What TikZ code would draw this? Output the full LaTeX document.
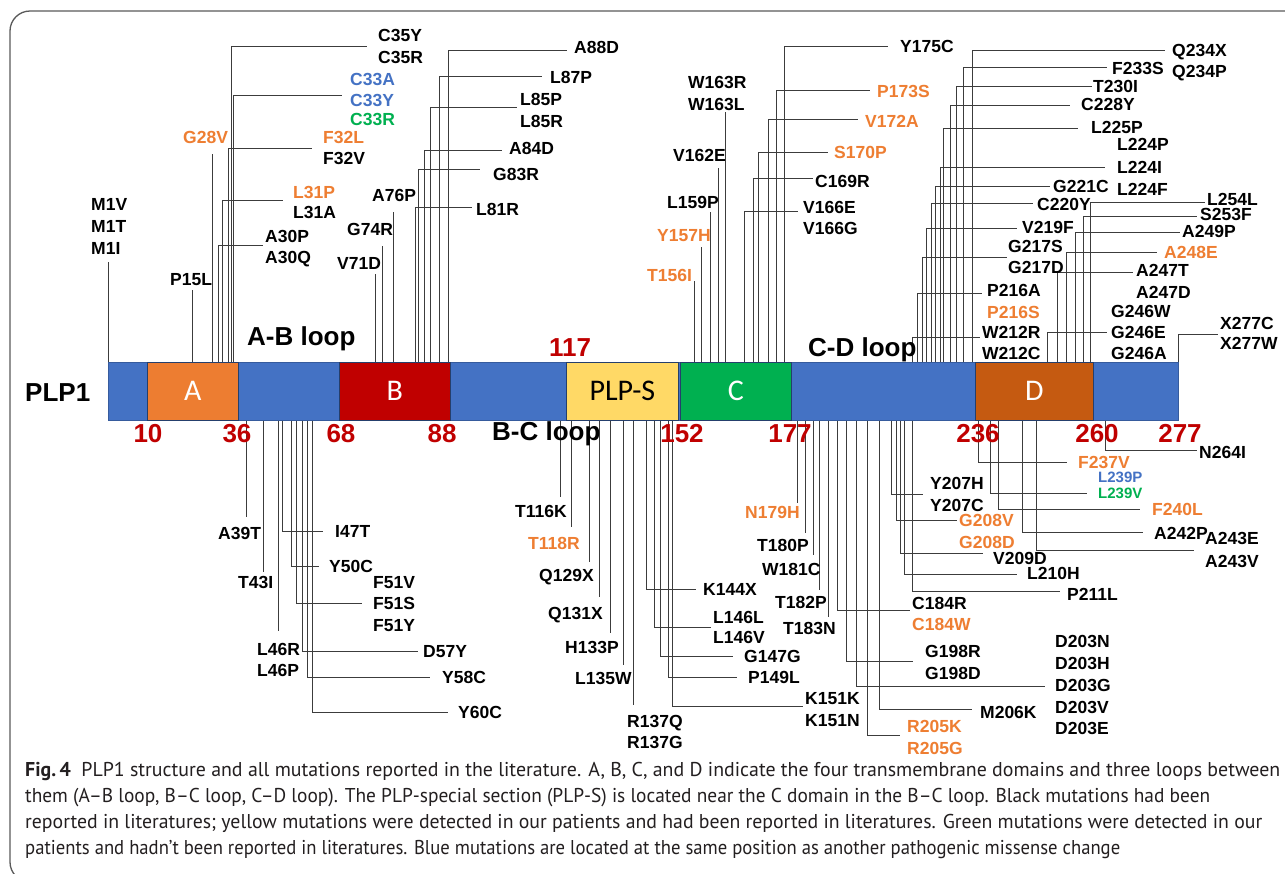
\documentclass[tikz,border=0pt]{standalone}
\usepackage{fontspec}
\usepackage{graphicx}
\setmainfont{Liberation Sans}
\newfontfamily\calibf{Carlito}
\newfontfamily\capf{PT Sans}
\definecolor{barblue}{HTML}{4472C4}
\definecolor{boxa}{HTML}{ED7D31}
\definecolor{boxb}{HTML}{C00000}
\definecolor{boxp}{HTML}{FFD966}
\definecolor{boxc}{HTML}{00B050}
\definecolor{boxd}{HTML}{C55A11}
\definecolor{mor}{HTML}{EE7E32}
\definecolor{mbl}{HTML}{4472C4}
\definecolor{mgr}{HTML}{00B050}
\definecolor{numred}{HTML}{C00000}
\definecolor{linec}{HTML}{3C3C3C}
\definecolor{framec}{HTML}{5A5A5A}
\definecolor{capc}{HTML}{231F20}
\newcommand\mutfont{\fontsize{17.5}{21}\selectfont\bfseries}
\newcommand\mElb[5]{% name, start y, vertical x, horizontal y, end x
  \coordinate (#1s) at (#3,#2);
  \coordinate (#1e) at (#5,#4);
  \draw[ln] (#1s) |- (#1e);}
\newcommand\mVln[4]{% name, start y, x, end y
  \coordinate (#1s) at (#3,#2);
  \coordinate (#1e) at (#3,#4);
  \draw[ln] (#1s) -- (#1e);}
\newcommand\mLab[5][black]{\node[mut,text=#1] (#2) at (#3,#4) {#5};}
\begin{document}
\begin{tikzpicture}[x=1pt,y=-1pt,
  ln/.style={draw=linec,line width=0.8pt},
  mut/.style={font=\mutfont,inner sep=0pt,anchor=west,text height=12.6pt,text depth=0pt},
  smallmut/.style={font=\fontsize{15}{18}\selectfont\bfseries,inner sep=0pt,anchor=west,text height=10.8pt,text depth=0pt},
  num/.style={font=\fontsize{26}{26}\selectfont\bfseries,text=numred,inner sep=0pt,text height=18.6pt,text depth=0pt},
  looplab/.style={font=\fontsize{26}{26}\selectfont\bfseries,inner sep=0pt,anchor=west,text height=18.6pt,text depth=5pt},
  boxlab/.style={font=\calibf\fontsize{30}{30}\selectfont,inner sep=0pt,text height=19pt,text depth=0pt},
  dom/.style={draw=barblue!55!black,line width=0.7pt,inner sep=0pt,minimum height=58pt,anchor=north west},
  capline/.style={anchor=base west,inner sep=0pt,text=capc,font=\capf\fontsize{20}{24}\selectfont}]
\useasboundingbox (0,0) rectangle (1285,873);
\fill[white] (0,0) rectangle (1285,873);
% frame
\draw[framec,line width=1.3pt,rounded corners=20pt] (1300,11) -- (10,11) -- (10,882) -- (1300,882);

% ---------- connectors above the bar ----------
\mVln{m1}{362}{108}{262}
\mVln{p15}{362}{192}{290}
\mVln{g28}{362}{212}{154}
\mElb{a30}{362}{218}{245}{263}
\mElb{l31}{362}{222}{200}{283}
\mElb{f32}{362}{228}{148}{312}
\mElb{c35}{362}{231}{46}{367}
\mElb{c33}{362}{233}{95}{342}
\mVln{v71}{362}{375}{274}
\mVln{g74}{362}{382}{246}
\mVln{a76}{362}{393}{212}
\mElb{l81}{362}{415}{207}{472}
\mElb{g83}{362}{418}{169}{480}
\mElb{a84}{362}{424}{150}{502}
\mElb{l85}{362}{430}{107}{517}
\mElb{l87}{362}{439}{76}{542}
\mElb{a88}{362}{448}{50}{567}
\mVln{t156}{362}{694}{281}
\mVln{y157}{362}{701}{247}
\mVln{l159}{362}{710}{212}
\mVln{v162}{362}{718}{168}
\mVln{w163}{362}{725}{112}
\mElb{v166}{362}{744}{211}{798}
\mElb{c169}{362}{753}{178}{813}
\mElb{s170}{362}{758}{152}{828}
\mElb{v172}{362}{768}{119}{858}
\mElb{p173}{362}{776}{90}{870}
\mElb{y175}{362}{784}{46}{888}
\mElb{w212}{362}{912}{337}{980}
\mElb{p216}{362}{917}{293}{982}
\mElb{g217}{362}{922}{257}{1007}
\mElb{v219}{362}{926}{228}{1017}
\mElb{c220}{362}{931}{203}{1033}
\mElb{g221}{362}{935}{186}{1050}
\mElb{l224}{362}{940}{167}{1105}
\mElb{l225}{362}{943}{128}{1078}
\mElb{c228}{362}{950}{105}{1070}
\mElb{t230}{362}{956}{86}{1092}
\mElb{f233}{362}{963}{67}{1107}
\mElb{q234}{362}{972}{50}{1165}
\mElb{g246}{362}{1047}{332}{1107}
\mElb{a247}{362}{1057}{272}{1133}
\mElb{a248}{362}{1066}{252}{1157}
\mElb{a249}{362}{1075}{232}{1180}
\mElb{s253}{362}{1083}{216}{1197}
\mElb{l254}{362}{1090}{202}{1205}
\mElb{x277}{362}{1178}{334}{1218}

% ---------- connectors below the bar ----------
\mVln{a39}{420}{246}{517}
\mVln{t43}{420}{263}{572}
\mVln{l46}{420}{278}{631}
\mElb{i47}{420}{282}{531}{323}
\mElb{y50}{420}{291}{566}{319}
\mElb{f51}{420}{296}{603}{362}
\mElb{d57}{420}{302}{651}{418}
\mElb{y58}{420}{307}{677}{430}
\mElb{y60}{420}{312}{712}{448}
\mVln{t116}{420}{560}{497}
\mVln{t118}{420}{571}{527}
\mVln{q129}{420}{589}{562}
\mVln{q131}{420}{599}{597}
\mVln{h133}{420}{610}{633}
\mVln{l135}{420}{623}{665}
\mVln{r137}{420}{633}{705}
\mElb{k144}{420}{646}{589}{696}
\mElb{l146}{420}{654}{627}{711}
\mElb{g147}{420}{660}{656}{733}
\mElb{p149}{420}{668}{677}{737}
\mElb{k151}{420}{672}{706}{803}
\mVln{n179}{420}{797}{503}
\mVln{t180}{420}{805}{533}
\mVln{w181}{420}{813}{555}
\mVln{t182}{420}{819}{590}
\mVln{t183}{420}{828}{617}
\mElb{c184}{420}{837}{610}{910}
\mElb{g198}{420}{846}{661}{913}
\mElb{d203}{420}{856}{686}{1045}
\mElb{r205}{420}{867}{735}{900}
\mElb{m206}{420}{879}{709}{972}
\mElb{y207}{420}{891}{494}{923}
\mElb{g208}{420}{896}{520}{957}
\mElb{v209}{420}{900}{553}{983}
\mElb{l210}{420}{904}{574}{1017}
\mElb{p211}{420}{912}{591}{1060}
\mElb{f237}{420}{978}{462}{1067}
\mElb{l239}{420}{990}{493}{1087}
\mElb{f240}{420}{998}{509}{1140}
\mElb{a242}{420}{1022}{532}{1143}
\mElb{a243}{420}{1036}{550}{1194}
\mElb{n264}{420}{1105}{450}{1197}

% ---------- protein bar ----------
\node[fill=barblue,draw=barblue!80!black,line width=0.7pt,inner sep=0pt,minimum width=1070pt,minimum height=58pt,anchor=north west] (bar) at (108,362) {};
\node[dom,fill=boxa,minimum width=91pt] (doma) at (147,362) {};
\node[dom,fill=boxb,minimum width=111pt] (domb) at (339,362) {};
\node[dom,fill=boxp,minimum width=112pt] (domp) at (566,362) {};
\node[dom,fill=boxc,minimum width=111pt] (domc) at (680,362) {};
\node[dom,fill=boxd,minimum width=118pt] (domd) at (975,362) {};
\node[boxlab,text=white] (la) at (doma.center) {A};
\node[boxlab,text=white] (lb) at (domb.center) {B};
\node[boxlab,text=black] (lp) at (domp.center) {PLP-S};
\node[boxlab,text=white] (lc) at (domc.center) {C};
\node[boxlab,text=white] (ld) at (domd.center) {D};
\node[font=\fontsize{26}{26}\selectfont\bfseries,inner sep=0pt,anchor=west,text height=18.6pt,text depth=0pt] (plp1) at (25,392) {PLP1};

% numbers
\node[num] (n10) at (148,433) {10};
\node[num] (n36) at (237,433) {36};
\node[num] (n68) at (341,433) {68};
\node[num] (n88) at (442,433) {88};
\node[num] (n152) at (682,433) {152};
\node[num] (n177) at (790,433) {177};
\node[num] (n236) at (978,433) {236};
\node[num] (n260) at (1097,433) {260};
\node[num] (n277) at (1180,433) {277};
\node[num] (n117) at (570,347) {117};

% loops
\node[looplab] (abl) at (247,339) {A-B loop};
\node[looplab] (bcl) at (492,434) {B-C loop};
\node[looplab] (cdl) at (808,350) {C-D loop};

% ---------- labels above ----------
\mLab{m1v}{91}{204}{M1V}
\mLab{m1t}{91}{226}{M1T}
\mLab{m1i}{91}{248}{M1I}
\mLab{p15l}{170}{279}{P15L}
\mLab[mor]{g28v}{183}{137}{G28V}
\mLab{a30p}{265}{236}{A30P}
\mLab{a30q}{265}{257}{A30Q}
\mLab[mor]{l31p}{293}{192}{L31P}
\mLab{l31a}{293}{212}{L31A}
\mLab[mor]{f32l}{323}{137}{F32L}
\mLab{f32v}{323}{158}{F32V}
\mLab[mbl]{c33a}{350}{79}{C33A}
\mLab[mbl]{c33y}{350}{100}{C33Y}
\mLab[mgr]{c33r}{350}{119}{C33R}
\mLab{c35y}{378}{35}{C35Y}
\mLab{c35r}{378}{57}{C35R}
\mLab{v71d}{337}{263}{V71D}
\mLab{g74r}{347}{229}{G74R}
\mLab{a76p}{372}{195}{A76P}
\mLab{l81r}{476}{209}{L81R}
\mLab{g83r}{493}{174}{G83R}
\mLab{a84d}{509}{148}{A84D}
\mLab{l85p}{520}{99}{L85P}
\mLab{l85r}{520}{121}{L85R}
\mLab{l87p}{550}{77}{L87P}
\mLab{a88d}{574}{47}{A88D}
\mLab[mor]{t156i}{647}{275}{T156I}
\mLab[mor]{y157h}{657}{235}{Y157H}
\mLab{l159p}{667}{202}{L159P}
\mLab{v162e}{673}{155}{V162E}
\mLab{w163r}{688}{82}{W163R}
\mLab{w163l}{688}{104}{W163L}
\mLab{v166e}{803}{207}{V166E}
\mLab{v166g}{803}{228}{V166G}
\mLab{c169r}{815}{181}{C169R}
\mLab[mor]{s170p}{834}{152}{S170P}
\mLab[mor]{v172a}{865}{121}{V172A}
\mLab[mor]{p173s}{877}{91}{P173S}
\mLab{y175c}{900}{46}{Y175C}
\mLab{q234x}{1172}{50}{Q234X}
\mLab{q234p}{1172}{71}{Q234P}
\mLab{f233s}{1112}{68}{F233S}
\mLab{t230i}{1093}{86}{T230I}
\mLab{c228y}{1081}{104}{C228Y}
\mLab{l225p}{1091}{127}{L225P}
\mLab{l224p}{1117}{144}{L224P}
\mLab{l224i}{1117}{167}{L224I}
\mLab{l224f}{1117}{189}{L224F}
\mLab{g221c}{1053}{186}{G221C}
\mLab{c220y}{1037}{204}{C220Y}
\mLab{v219f}{1022}{227}{V219F}
\mLab{g217s}{1008}{246}{G217S}
\mLab{g217d}{1008}{267}{G217D}
\mLab{p216a}{987}{290}{P216A}
\mLab[mor]{p216s}{987}{312}{P216S}
\mLab{w212r}{982}{332}{W212R}
\mLab{w212c}{982}{353}{W212C}
\mLab{g246w}{1111}{311}{G246W}
\mLab{g246e}{1111}{332}{G246E}
\mLab{g246a}{1111}{353}{G246A}
\mLab{a247t}{1136}{270}{A247T}
\mLab{a247d}{1136}{292}{A247D}
\mLab[mor]{a248e}{1164}{252}{A248E}
\mLab{a249p}{1182}{231}{A249P}
\mLab{s253f}{1200}{214}{S253F}
\mLab{l254l}{1207}{199}{L254L}
\mLab{x277c}{1220}{323}{X277C}
\mLab{x277w}{1220}{343}{X277W}

% ---------- labels below ----------
\mLab{a39t}{218}{533}{A39T}
\mLab{t43i}{238}{582}{T43I}
\mLab{l46r}{257}{649}{L46R}
\mLab{l46p}{257}{670}{L46P}
\mLab{i47t}{335}{531}{I47T}
\mLab{y50c}{329}{566}{Y50C}
\mLab{f51v}{373}{582}{F51V}
\mLab{f51s}{373}{603}{F51S}
\mLab{f51y}{373}{625}{F51Y}
\mLab{d57y}{423}{651}{D57Y}
\mLab{y58c}{442}{677}{Y58C}
\mLab{y60c}{458}{712}{Y60C}
\mLab{t116k}{515}{511}{T116K}
\mLab[mor]{t118r}{528}{543}{T118R}
\mLab{q129x}{539}{575}{Q129X}
\mLab{q131x}{548}{613}{Q131X}
\mLab{h133p}{565}{647}{H133P}
\mLab{l135w}{575}{678}{L135W}
\mLab{r137q}{627}{721}{R137Q}
\mLab{r137g}{627}{742}{R137G}
\mLab{k144x}{703}{589}{K144X}
\mLab{l146l}{713}{617}{L146L}
\mLab{l146v}{713}{637}{L146V}
\mLab{g147g}{744}{656}{G147G}
\mLab{p149l}{748}{677}{P149L}
\mLab{k151k}{805}{698}{K151K}
\mLab{k151n}{805}{720}{K151N}
\mLab[mor]{n179h}{745}{512}{N179H}
\mLab{t180p}{757}{545}{T180P}
\mLab{w181c}{762}{569}{W181C}
\mLab{t182p}{775}{602}{T182P}
\mLab{t183n}{783}{628}{T183N}
\mLab{c184r}{912}{603}{C184R}
\mLab[mor]{c184w}{912}{624}{C184W}
\mLab{g198r}{925}{651}{G198R}
\mLab{g198d}{925}{673}{G198D}
\mLab{d203n}{1055}{641}{D203N}
\mLab{d203h}{1055}{663}{D203H}
\mLab{d203g}{1055}{685}{D203G}
\mLab{d203v}{1055}{707}{D203V}
\mLab{d203e}{1055}{728}{D203E}
\mLab[mor]{r205k}{907}{726}{R205K}
\mLab[mor]{r205g}{907}{748}{R205G}
\mLab{m206k}{980}{712}{M206K}
\mLab{y207h}{930}{483}{Y207H}
\mLab{y207c}{930}{505}{Y207C}
\mLab[mor]{g208v}{959}{520}{G208V}
\mLab[mor]{g208d}{959}{542}{G208D}
\mLab{v209d}{993}{558}{V209D}
\mLab{l210h}{1027}{573}{L210H}
\mLab{p211l}{1067}{594}{P211L}
\mLab[mor]{f237v}{1078}{462}{F237V}
\node[smallmut,text=mbl] (l239p) at (1098,477) {L239P};
\node[smallmut,text=mgr] (l239v) at (1098,493) {L239V};
\mLab[mor]{f240l}{1152}{509}{F240L}
\mLab{a242p}{1154}{533}{A242P}
\mLab{a243e}{1205}{538}{A243E}
\mLab{a243v}{1205}{561}{A243V}
\mLab{n264i}{1199}{452}{N264I}

% ---------- caption ----------
\node[capline] (cap1) at (25,776) {\resizebox{1255pt}{\height}{\textbf{Fig.\,4}\ \ PLP1 structure and all mutations reported in the literature. A, B, C, and D indicate the four transmembrane domains and three loops between}};
\node[capline] (cap2) at (25,802) {\resizebox{1185pt}{\height}{them (A–B loop, B–C loop, C–D loop). The PLP-special section (PLP-S) is located near the C domain in the B–C loop. Black mutations had been}};
\node[capline] (cap3) at (25,828) {\resizebox{1237pt}{\height}{reported in literatures; yellow mutations were detected in our patients and had been reported in literatures. Green mutations were detected in our}};
\node[capline] (cap4) at (25,854) {\resizebox{1095pt}{\height}{patients and hadn’t been reported in literatures. Blue mutations are located at the same position as another pathogenic missense change}};
\end{tikzpicture}
\end{document}
